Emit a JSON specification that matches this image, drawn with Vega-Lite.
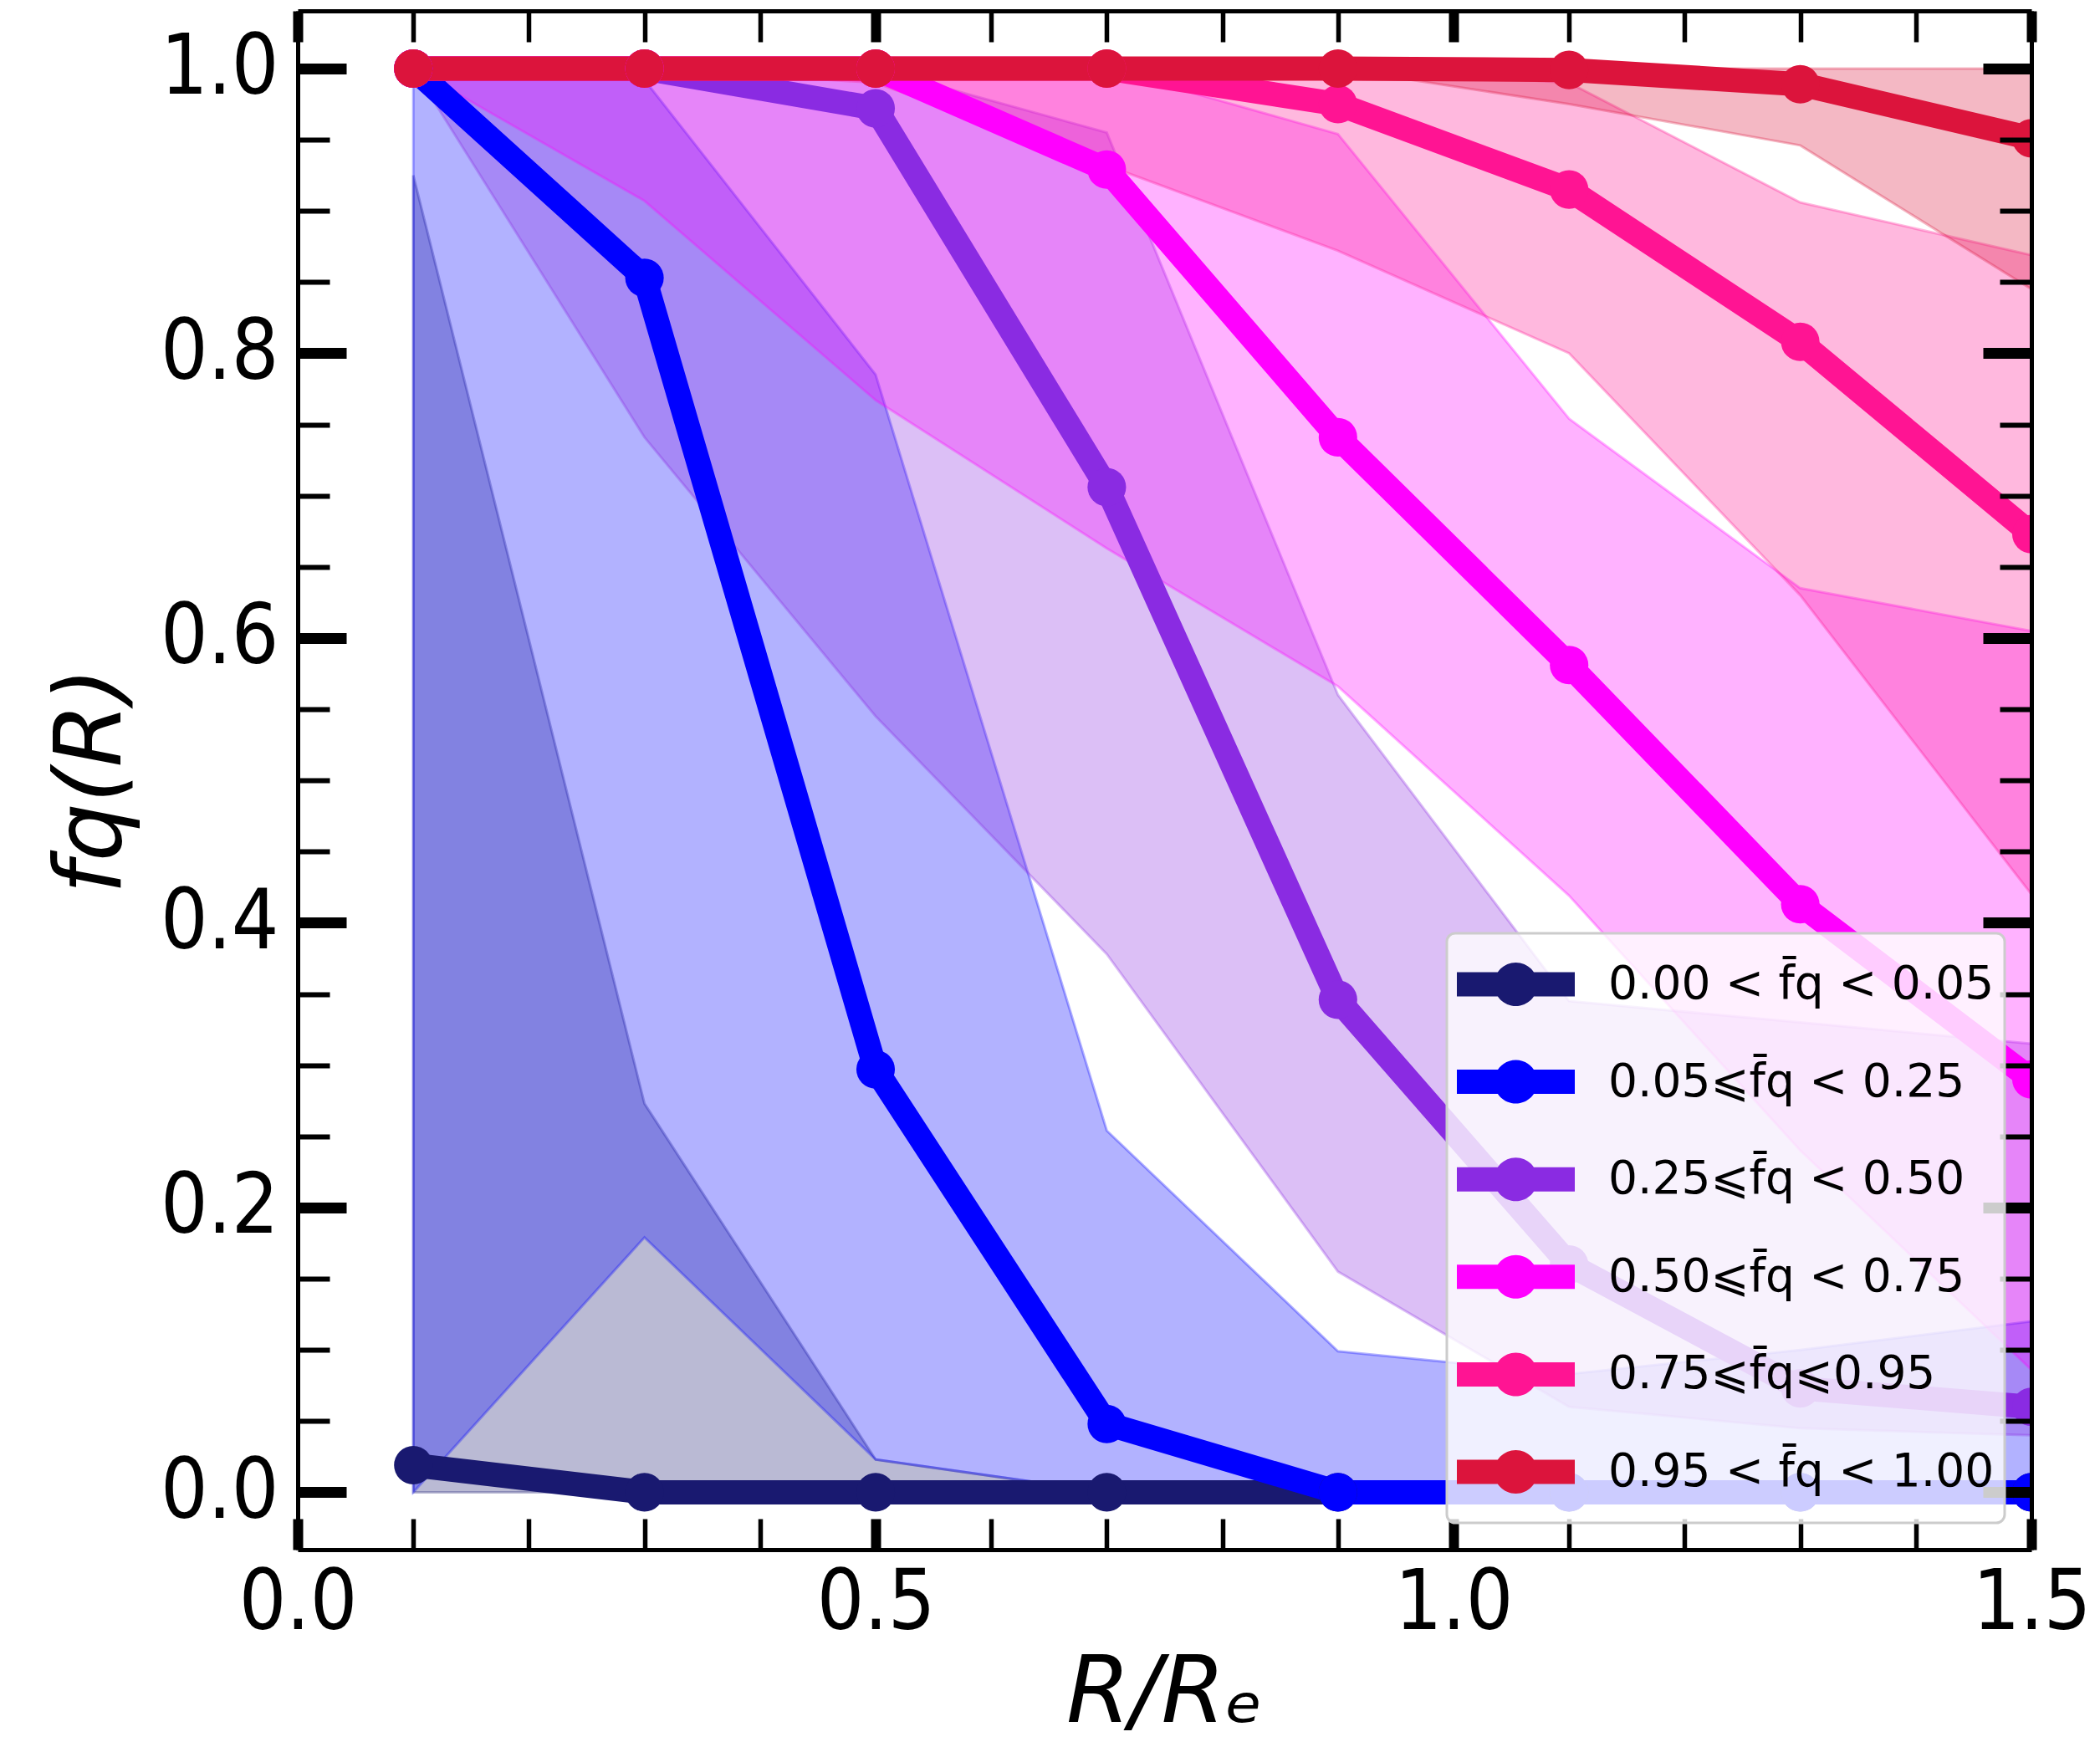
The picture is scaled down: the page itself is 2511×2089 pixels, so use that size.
{
  "$schema": "https://vega.github.io/schema/vega-lite/v6.json",
  "width": 2073,
  "height": 1840,
  "autosize": {"type": "none"},
  "padding": {"left": 356, "top": 13, "right": 82, "bottom": 236},
  "background": "white",
  "config": {
    "view": {"stroke": null},
    "axis": {
      "grid": false,
      "labelFont": "DejaVu Sans Condensed",
      "labelFontSize": 99,
      "labelColor": "black",
      "tickColor": "black",
      "tickOpacity": 1,
      "titleFont": "DejaVu Sans",
      "titleFontStyle": "italic",
      "titleFontWeight": "normal",
      "titleFontSize": 110,
      "titleColor": "black",
      "labelFlush": false,
      "labelOverlap": false,
      "labelBound": false,
      "domainColor": "black",
      "domainWidth": 5,
      "zindex": 1
    }
  },
  "data": {
    "values": [
      {"g": "0.00 < f\u0304q < 0.05", "x": 0.1, "y": 0.019, "lo": 0, "hi": 0.925},
      {"g": "0.00 < f\u0304q < 0.05", "x": 0.3, "y": 0, "lo": 0, "hi": 0.273},
      {"g": "0.00 < f\u0304q < 0.05", "x": 0.5, "y": 0, "lo": 0, "hi": 0.023},
      {"g": "0.00 < f\u0304q < 0.05", "x": 0.7, "y": 0, "lo": 0, "hi": 0},
      {"g": "0.00 < f\u0304q < 0.05", "x": 0.9, "y": 0, "lo": 0, "hi": 0},
      {"g": "0.00 < f\u0304q < 0.05", "x": 1.1, "y": 0, "lo": 0, "hi": 0},
      {"g": "0.00 < f\u0304q < 0.05", "x": 1.3, "y": 0, "lo": 0, "hi": 0},
      {"g": "0.00 < f\u0304q < 0.05", "x": 1.5, "y": 0, "lo": 0, "hi": 0},
      {"g": "0.05\u2a7df\u0304q < 0.25", "x": 0.1, "y": 1.0, "lo": 0, "hi": 1.0},
      {"g": "0.05\u2a7df\u0304q < 0.25", "x": 0.3, "y": 0.853, "lo": 0.179, "hi": 0.992},
      {"g": "0.05\u2a7df\u0304q < 0.25", "x": 0.5, "y": 0.297, "lo": 0.023, "hi": 0.785},
      {"g": "0.05\u2a7df\u0304q < 0.25", "x": 0.7, "y": 0.048, "lo": 0, "hi": 0.254},
      {"g": "0.05\u2a7df\u0304q < 0.25", "x": 0.9, "y": 0, "lo": 0, "hi": 0.099},
      {"g": "0.05\u2a7df\u0304q < 0.25", "x": 1.1, "y": 0, "lo": 0, "hi": 0.083},
      {"g": "0.05\u2a7df\u0304q < 0.25", "x": 1.3, "y": 0, "lo": 0, "hi": 0.1},
      {"g": "0.05\u2a7df\u0304q < 0.25", "x": 1.5, "y": 0, "lo": 0, "hi": 0.12},
      {"g": "0.25\u2a7df\u0304q < 0.50", "x": 0.1, "y": 1.0, "lo": 1.0, "hi": 1.0},
      {"g": "0.25\u2a7df\u0304q < 0.50", "x": 0.3, "y": 1.0, "lo": 0.741, "hi": 1.0},
      {"g": "0.25\u2a7df\u0304q < 0.50", "x": 0.5, "y": 0.972, "lo": 0.545, "hi": 1.0},
      {"g": "0.25\u2a7df\u0304q < 0.50", "x": 0.7, "y": 0.706, "lo": 0.378, "hi": 0.955},
      {"g": "0.25\u2a7df\u0304q < 0.50", "x": 0.9, "y": 0.346, "lo": 0.155, "hi": 0.56},
      {"g": "0.25\u2a7df\u0304q < 0.50", "x": 1.1, "y": 0.16, "lo": 0.06, "hi": 0.345},
      {"g": "0.25\u2a7df\u0304q < 0.50", "x": 1.3, "y": 0.073, "lo": 0.045, "hi": 0.33},
      {"g": "0.25\u2a7df\u0304q < 0.50", "x": 1.5, "y": 0.06, "lo": 0.04, "hi": 0.315},
      {"g": "0.50\u2a7df\u0304q < 0.75", "x": 0.1, "y": 1.0, "lo": 1.0, "hi": 1.0},
      {"g": "0.50\u2a7df\u0304q < 0.75", "x": 0.3, "y": 1.0, "lo": 0.907, "hi": 1.0},
      {"g": "0.50\u2a7df\u0304q < 0.75", "x": 0.5, "y": 1.0, "lo": 0.767, "hi": 1.0},
      {"g": "0.50\u2a7df\u0304q < 0.75", "x": 0.7, "y": 0.929, "lo": 0.663, "hi": 1.0},
      {"g": "0.50\u2a7df\u0304q < 0.75", "x": 0.9, "y": 0.741, "lo": 0.566, "hi": 0.954},
      {"g": "0.50\u2a7df\u0304q < 0.75", "x": 1.1, "y": 0.581, "lo": 0.419, "hi": 0.754},
      {"g": "0.50\u2a7df\u0304q < 0.75", "x": 1.3, "y": 0.413, "lo": 0.24, "hi": 0.635},
      {"g": "0.50\u2a7df\u0304q < 0.75", "x": 1.5, "y": 0.29, "lo": 0.086, "hi": 0.605},
      {"g": "0.75\u2a7df\u0304q\u2a7d0.95", "x": 0.1, "y": 1.0, "lo": 1.0, "hi": 1.0},
      {"g": "0.75\u2a7df\u0304q\u2a7d0.95", "x": 0.3, "y": 1.0, "lo": 1.0, "hi": 1.0},
      {"g": "0.75\u2a7df\u0304q\u2a7d0.95", "x": 0.5, "y": 1.0, "lo": 0.99, "hi": 1.0},
      {"g": "0.75\u2a7df\u0304q\u2a7d0.95", "x": 0.7, "y": 1.0, "lo": 0.932, "hi": 1.0},
      {"g": "0.75\u2a7df\u0304q\u2a7d0.95", "x": 0.9, "y": 0.975, "lo": 0.872, "hi": 1.0},
      {"g": "0.75\u2a7df\u0304q\u2a7d0.95", "x": 1.1, "y": 0.915, "lo": 0.8, "hi": 0.99},
      {"g": "0.75\u2a7df\u0304q\u2a7d0.95", "x": 1.3, "y": 0.808, "lo": 0.63, "hi": 0.906},
      {"g": "0.75\u2a7df\u0304q\u2a7d0.95", "x": 1.5, "y": 0.673, "lo": 0.42, "hi": 0.869},
      {"g": "0.95 < f\u0304q < 1.00", "x": 0.1, "y": 1.0, "lo": 1.0, "hi": 1.0},
      {"g": "0.95 < f\u0304q < 1.00", "x": 0.3, "y": 1.0, "lo": 1.0, "hi": 1.0},
      {"g": "0.95 < f\u0304q < 1.00", "x": 0.5, "y": 1.0, "lo": 1.0, "hi": 1.0},
      {"g": "0.95 < f\u0304q < 1.00", "x": 0.7, "y": 1.0, "lo": 1.0, "hi": 1.0},
      {"g": "0.95 < f\u0304q < 1.00", "x": 0.9, "y": 1.0, "lo": 1.0, "hi": 1.0},
      {"g": "0.95 < f\u0304q < 1.00", "x": 1.1, "y": 0.999, "lo": 0.975, "hi": 1.0},
      {"g": "0.95 < f\u0304q < 1.00", "x": 1.3, "y": 0.989, "lo": 0.946, "hi": 1.0},
      {"g": "0.95 < f\u0304q < 1.00", "x": 1.5, "y": 0.951, "lo": 0.845, "hi": 1.0}
    ]
  },
  "layer": [
    {
      "mark": {"type": "area", "fillOpacity": 0.3, "strokeOpacity": 0.3, "strokeWidth": 3, "clip": true, "interpolate": "linear"},
      "encoding": {
        "x": {"field": "x", "type": "quantitative", "scale": {"domain": [0, 1.5], "nice": false, "zero": false},
          "axis": {"orient": "bottom", "values": [0, 0.5, 1, 1.5], "format": ".1f", "tickSize": -37, "tickWidth": 12, "labelPadding": 53, "title": "R/R\u2091", "titlePadding": 4, "domain": true, "zindex": 1}},
        "y": {"field": "lo", "type": "quantitative", "stack": null, "scale": {"domain": [-0.0403, 1.0405], "nice": false, "zero": false},
          "axis": {"orient": "left", "values": [0, 0.2, 0.4, 0.6, 0.8, 1.0], "format": ".1f", "tickSize": -58, "tickWidth": 13, "labelPadding": 81, "title": "fq(R)", "titlePadding": 25, "domain": true, "zindex": 1}},
        "y2": {"field": "hi"},
        "color": {"field": "g", "type": "nominal",
          "scale": {"domain": ["0.00 < f\u0304q < 0.05", "0.05\u2a7df\u0304q < 0.25", "0.25\u2a7df\u0304q < 0.50", "0.50\u2a7df\u0304q < 0.75", "0.75\u2a7df\u0304q\u2a7d0.95", "0.95 < f\u0304q < 1.00"],
            "range": ["#191970", "#0000ff", "#8a2be2", "#ff00ff", "#ff1493", "#dc143c"]},
          "legend": {"orient": "bottom-right", "offset": 32, "title": null, "padding": 12, "fillColor": "rgba(255,255,255,0.8)", "strokeColor": "#cccccc", "symbolType": "M-1,-0.206H1V0.206H-1Z M0.369,0A0.369,0.369,0,1,1,-0.369,0A0.369,0.369,0,1,1,0.369,0Z", "symbolSize": 19881, "symbolStrokeWidth": 0, "symbolOpacity": 1, "clipHeight": 98, "rowPadding": 18.6, "labelOffset": 40, "labelFont": "DejaVu Sans", "labelFontSize": 55, "labelColor": "black", "labelLimit": 0, "zindex": 2,
            "encode": {"legend": {"update": {"strokeWidth": {"value": 3}, "cornerRadius": {"value": 10}}}, "symbols": {"update": {"fill": {"scale": "color", "field": "value"}, "stroke": {"value": "transparent"}, "opacity": {"value": 1}, "fillOpacity": {"value": 1}}}}}},
        "stroke": {"field": "g", "type": "nominal",
          "scale": {"domain": ["0.00 < f\u0304q < 0.05", "0.05\u2a7df\u0304q < 0.25", "0.25\u2a7df\u0304q < 0.50", "0.50\u2a7df\u0304q < 0.75", "0.75\u2a7df\u0304q\u2a7d0.95", "0.95 < f\u0304q < 1.00"],
            "range": ["#191970", "#0000ff", "#8a2be2", "#ff00ff", "#ff1493", "#dc143c"]},
          "legend": null}
      }
    },
    {
      "mark": {"type": "line", "strokeWidth": 29, "clip": true, "strokeJoin": "round", "strokeCap": "butt"},
      "encoding": {
        "x": {"field": "x", "type": "quantitative", "scale": {"domain": [0, 1.5], "nice": false, "zero": false},
          "axis": {"orient": "top", "values": [0, 0.5, 1, 1.5], "tickSize": -37, "tickWidth": 12, "labels": false, "title": null, "domain": true, "zindex": 1}},
        "y": {"field": "y", "type": "quantitative", "scale": {"domain": [-0.0403, 1.0405], "nice": false, "zero": false},
          "axis": {"orient": "right", "values": [0, 0.2, 0.4, 0.6, 0.8, 1.0], "tickSize": -58, "tickWidth": 13, "labels": false, "title": null, "domain": true, "zindex": 1}},
        "color": {"field": "g", "type": "nominal",
          "scale": {"domain": ["0.00 < f\u0304q < 0.05", "0.05\u2a7df\u0304q < 0.25", "0.25\u2a7df\u0304q < 0.50", "0.50\u2a7df\u0304q < 0.75", "0.75\u2a7df\u0304q\u2a7d0.95", "0.95 < f\u0304q < 1.00"],
            "range": ["#191970", "#0000ff", "#8a2be2", "#ff00ff", "#ff1493", "#dc143c"]},
          "legend": {"orient": "bottom-right", "offset": 32, "title": null, "padding": 12, "fillColor": "rgba(255,255,255,0.8)", "strokeColor": "#cccccc", "symbolType": "M-1,-0.206H1V0.206H-1Z M0.369,0A0.369,0.369,0,1,1,-0.369,0A0.369,0.369,0,1,1,0.369,0Z", "symbolSize": 19881, "symbolStrokeWidth": 0, "symbolOpacity": 1, "clipHeight": 98, "rowPadding": 18.6, "labelOffset": 40, "labelFont": "DejaVu Sans", "labelFontSize": 55, "labelColor": "black", "labelLimit": 0, "zindex": 2,
            "encode": {"legend": {"update": {"strokeWidth": {"value": 3}, "cornerRadius": {"value": 10}}}, "symbols": {"update": {"fill": {"scale": "color", "field": "value"}, "stroke": {"value": "transparent"}, "opacity": {"value": 1}, "fillOpacity": {"value": 1}}}}}}
      }
    },
    {
      "mark": {"type": "point", "filled": true, "size": 2124, "opacity": 1, "strokeWidth": 0, "clip": true},
      "encoding": {
        "x": {"field": "x", "type": "quantitative", "scale": {"domain": [0, 1.5], "nice": false, "zero": false},
          "axis": {"orient": "bottom", "values": [0.1, 0.2, 0.3, 0.4, 0.6, 0.7, 0.8, 0.9, 1.1, 1.2, 1.3, 1.4], "tickSize": -37, "tickWidth": 5.5, "labels": false, "title": null, "domain": false, "zindex": 1}},
        "y": {"field": "y", "type": "quantitative", "scale": {"domain": [-0.0403, 1.0405], "nice": false, "zero": false},
          "axis": {"orient": "left", "values": [0.05, 0.1, 0.15, 0.25, 0.3, 0.35, 0.45, 0.5, 0.55, 0.65, 0.7, 0.75, 0.85, 0.9, 0.95], "tickSize": -38, "tickWidth": 6, "labels": false, "title": null, "domain": false, "zindex": 1}},
        "color": {"field": "g", "type": "nominal",
          "scale": {"domain": ["0.00 < f\u0304q < 0.05", "0.05\u2a7df\u0304q < 0.25", "0.25\u2a7df\u0304q < 0.50", "0.50\u2a7df\u0304q < 0.75", "0.75\u2a7df\u0304q\u2a7d0.95", "0.95 < f\u0304q < 1.00"],
            "range": ["#191970", "#0000ff", "#8a2be2", "#ff00ff", "#ff1493", "#dc143c"]},
          "legend": {"orient": "bottom-right", "offset": 32, "title": null, "padding": 12, "fillColor": "rgba(255,255,255,0.8)", "strokeColor": "#cccccc", "symbolType": "M-1,-0.206H1V0.206H-1Z M0.369,0A0.369,0.369,0,1,1,-0.369,0A0.369,0.369,0,1,1,0.369,0Z", "symbolSize": 19881, "symbolStrokeWidth": 0, "symbolOpacity": 1, "clipHeight": 98, "rowPadding": 18.6, "labelOffset": 40, "labelFont": "DejaVu Sans", "labelFontSize": 55, "labelColor": "black", "labelLimit": 0, "zindex": 2,
            "encode": {"legend": {"update": {"strokeWidth": {"value": 3}, "cornerRadius": {"value": 10}}}, "symbols": {"update": {"fill": {"scale": "color", "field": "value"}, "stroke": {"value": "transparent"}, "opacity": {"value": 1}, "fillOpacity": {"value": 1}}}}}}
      }
    },
    {
      "mark": {"type": "point", "opacity": 0, "clip": true},
      "encoding": {
        "x": {"field": "x", "type": "quantitative", "scale": {"domain": [0, 1.5], "nice": false, "zero": false},
          "axis": {"orient": "top", "values": [0.1, 0.2, 0.3, 0.4, 0.6, 0.7, 0.8, 0.9, 1.1, 1.2, 1.3, 1.4], "tickSize": -37, "tickWidth": 5.5, "labels": false, "title": null, "domain": false, "zindex": 1}},
        "y": {"field": "y", "type": "quantitative", "scale": {"domain": [-0.0403, 1.0405], "nice": false, "zero": false},
          "axis": {"orient": "right", "values": [0.05, 0.1, 0.15, 0.25, 0.3, 0.35, 0.45, 0.5, 0.55, 0.65, 0.7, 0.75, 0.85, 0.9, 0.95], "tickSize": -38, "tickWidth": 6, "labels": false, "title": null, "domain": false, "zindex": 1}}
      }
    }
  ],
  "resolve": {"axis": {"x": "independent", "y": "independent"}}
}
